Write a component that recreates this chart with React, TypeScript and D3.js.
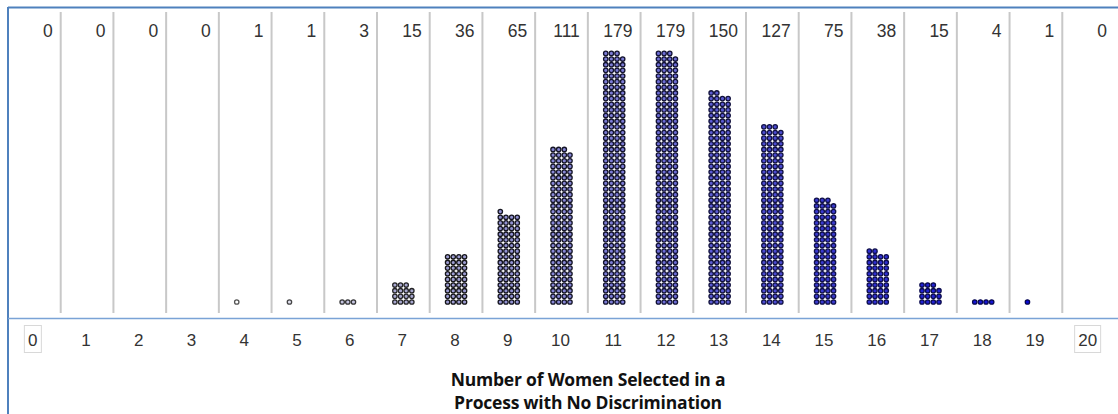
import React from "react";
import * as d3 from "d3";

const outcomes: number[] = d3.range(0, 21);
const counts: number[] = [0, 0, 0, 0, 1, 1, 3, 15, 36, 65, 111, 179, 179, 150, 127, 75, 38, 15, 4, 1, 0];
const axisLabels: string[] = outcomes.map(String);
const titleLines: string[] = ["Number of Women Selected in a", "Process with No Discrimination"];

const W = 1118;
const H = 414;
const COLS = 4;
const STEP = 5.65;

export default function App() {
  const x = d3.scaleBand<number>().domain(outcomes).range([8, 1115]).padding(0);
  const bw = x.bandwidth();
  const maxRows = Math.ceil(d3.max(counts)! / COLS);
  const rowY = d3.scaleLinear().domain([0, maxRows]).range([302, 302 - maxRows * STEP]);
  const colX = d3.scaleLinear().domain([0, COLS - 1]).range([-1.5 * STEP, 1.5 * STEP]);
  const fill = d3.scaleLinear<string>().domain([4, 7, 11, 15, 19]).range(["#ffffff", "#a8a8d0", "#7c7cd6", "#3a3ad0", "#0808d8"]).clamp(true);
  const stroke = d3.scaleLinear<string>().domain([4, 8, 15, 19]).range(["#555555", "#151518", "#10104a", "#060650"]).clamp(true);

  const dots: { k: number; i: number; cx: number; cy: number }[] = [];
  outcomes.forEach((k, idx) => {
    const n = counts[idx];
    const cx0 = x(k)! + bw / 2;
    for (let i = 0; i < n; i++) {
      const r = Math.floor(i / COLS);
      const c = i % COLS;
      dots.push({ k, i, cx: cx0 + colX(c), cy: rowY(r) });
    }
  });

  return (
    <svg width={W} height={H} style={{ position: "absolute", left: 0, top: 0, display: "block" }}>
      <rect x={0} y={0} width={W} height={H} fill="#ffffff" />
      <line x1={8} x2={W} y1={7.5} y2={7.5} stroke="#4f81bd" strokeWidth={2} />
      <line x1={8} x2={8} y1={7} y2={H} stroke="#4f81bd" strokeWidth={2} />
      {outcomes.slice(1).map((k) => (
        <line key={"s" + k} x1={x(k)!} x2={x(k)!} y1={12} y2={313} stroke="#c8c8c8" strokeWidth={2} />
      ))}
      <line x1={8} x2={W} y1={318.5} y2={318.5} stroke="#7aa3d6" strokeWidth={1.5} />
      {outcomes.map((k, idx) => (
        <text key={"c" + k} x={x(k)! + bw - 8} y={37} textAnchor="end" fontFamily="Liberation Sans, Arial, sans-serif" fontSize={17.5} fill="#333">
          {counts[idx]}
        </text>
      ))}
      {dots.map((d) => (
        <circle key={d.k + "-" + d.i} cx={d.cx} cy={d.cy} r={2.2} fill={fill(d.k)} stroke={stroke(d.k)} strokeWidth={1.3} />
      ))}
      {outcomes.map((k, idx) => {
        const cx = x(k)! + bw / 2;
        const last = idx === outcomes.length - 1;
        const boxed = idx === 0 || last;
        return (
          <g key={"a" + k}>
            {boxed && (
              <rect x={idx === 0 ? cx - 10 : cx - 14} y={325.5} width={idx === 0 ? 17 : 26} height={27} fill="#fff" stroke="#d8d8d8" strokeWidth={1} />
            )}
            <text x={idx === 0 ? cx - 1.5 : cx - 1} y={346} textAnchor="middle" fontFamily="Liberation Sans, Arial, sans-serif" fontSize={17} fill="#333">
              {axisLabels[idx]}
            </text>
          </g>
        );
      })}
      {titleLines.map((t, i) => (
        <text key={"t" + i} x={588} y={386 + i * 23} textAnchor="middle" fontFamily="'Open Sans', sans-serif" fontWeight="bold" fontSize={17.5} letterSpacing={-0.2} fill="#111">
          {t}
        </text>
      ))}
    </svg>
  );
}
